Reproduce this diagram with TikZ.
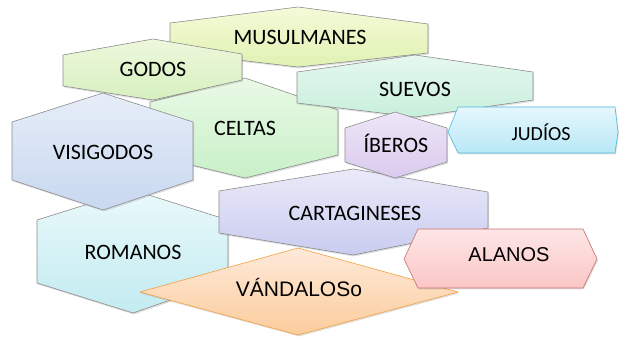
\documentclass[tikz,border=0pt]{standalone}
\usepackage{fontspec}
\setmainfont{Carlito}
\newfontfamily\arialfont{Liberation Sans}
\usetikzlibrary{shadows}

\definecolor{musTop}{HTML}{F4FAD8}\definecolor{musBot}{HTML}{E0F2B2}
\definecolor{godTop}{HTML}{EEF8DC}\definecolor{godBot}{HTML}{D6F0C0}
\definecolor{sueTop}{HTML}{E6F8EF}\definecolor{sueBot}{HTML}{C8EFDC}
\definecolor{celTop}{HTML}{EAF9E6}\definecolor{celBot}{HTML}{C8F0C8}
\definecolor{visTop}{HTML}{E6EDF8}\definecolor{visBot}{HTML}{C8D8F0}
\definecolor{ibeTop}{HTML}{EEE6F7}\definecolor{ibeBot}{HTML}{DACAEE}
\definecolor{judTop}{HTML}{E6F7FD}\definecolor{judBot}{HTML}{B8E8F6}\definecolor{judLine}{HTML}{4AB8D8}
\definecolor{carTop}{HTML}{EAEAF9}\definecolor{carBot}{HTML}{CACCF0}
\definecolor{romTop}{HTML}{EAF9FB}\definecolor{romBot}{HTML}{C2EBF0}
\definecolor{vanTop}{HTML}{FDEADA}\definecolor{vanBot}{HTML}{FCCC9C}\definecolor{vanLine}{HTML}{F4A040}
\definecolor{alaTop}{HTML}{FDE6E6}\definecolor{alaBot}{HTML}{FCC6C6}\definecolor{alaLine}{HTML}{C87070}

\begin{document}
\begin{tikzpicture}[x=1pt, y=-1pt,
    caja/.style={draw=black!45, line width=0.6pt,
        drop shadow={shadow xshift=1pt, shadow yshift=-1.5pt, opacity=0.25}},
    rotulo/.style={anchor=base, inner sep=0pt, font=\fontsize{22}{24}\selectfont}]
    \useasboundingbox (0,0) rectangle (619,339);

    % 1. Hexágonos del fondo
    \draw[caja, top color=musTop, bottom color=musBot]
        (170,23) -- (298,7) -- (428,24) -- (428,53) -- (298,67) -- (170,52) -- cycle;
    \draw[caja, top color=celTop, bottom color=celBot]
        (150,102) -- (245,78) -- (338,110) -- (338,155) -- (245,178) -- (150,155) -- cycle;
    \draw[caja, top color=sueTop, bottom color=sueBot]
        (297,72) -- (415,55) -- (533,72) -- (533,100) -- (415,117) -- (297,103) -- cycle;
    \draw[caja, top color=godTop, bottom color=godBot]
        (63,55) -- (153,39) -- (242,54) -- (242,80) -- (153,100) -- (63,86) -- cycle;
    \draw[caja, top color=romTop, bottom color=romBot]
        (37,220) -- (133,190) -- (228,220) -- (228,280) -- (133,313) -- (37,283) -- cycle;
    \draw[caja, top color=visTop, bottom color=visBot]
        (12,122) -- (103,93) -- (193,122) -- (193,180) -- (103,210) -- (12,180) -- cycle;

    % 2. Hexágonos del frente
    \draw[caja, top color=carTop, bottom color=carBot]
        (219,191) -- (353,169) -- (488,192) -- (488,228) -- (353,255) -- (219,233) -- cycle;
    \draw[caja, top color=ibeTop, bottom color=ibeBot]
        (345,128) -- (395,112) -- (447,128) -- (447,162) -- (395,178) -- (345,162) -- cycle;
    \draw[caja, draw=judLine, top color=judTop, bottom color=judBot]
        (448,132) -- (458,107) -- (615,107) -- (618,132) -- (615,153) -- (458,153) -- cycle;
    \draw[caja, draw=vanLine, top color=vanTop, bottom color=vanBot]
        (140,292) -- (298,248) -- (458,292) -- (298,335) -- cycle;
    \draw[caja, draw=alaLine, top color=alaTop, bottom color=alaBot]
        (404,259) -- (418,229) -- (583,229) -- (597,259) -- (583,288) -- (418,288) -- cycle;

    % 3. Rótulos
    \node[rotulo] (musulmanes) at (300,45) {MUSULMANES};
    \node[rotulo] (godos) at (153,77) {GODOS};
    \node[rotulo] (suevos) at (415,97) {SUEVOS};
    \node[rotulo] (celtas) at (245,136) {CELTAS};
    \node[rotulo] (visigodos) at (103,160) {VISIGODOS};
    \node[rotulo] (iberos) at (396,153) {ÍBEROS};
    \node[rotulo, font=\fontsize{20}{22}\selectfont] (judios) at (541,141) {JUDÍOS};
    \node[rotulo] (cartagineses) at (355,221) {CARTAGINESES};
    \node[rotulo] (romanos) at (133,260) {ROMANOS};
    \node[rotulo, font=\arialfont\fontsize{21}{23}\selectfont] (vandalos) at (299,297) {VÁNDALOSo};
    \node[rotulo, font=\arialfont\fontsize{20}{22}\selectfont] (alanos) at (509,262) {ALANOS};
\end{tikzpicture}
\end{document}
